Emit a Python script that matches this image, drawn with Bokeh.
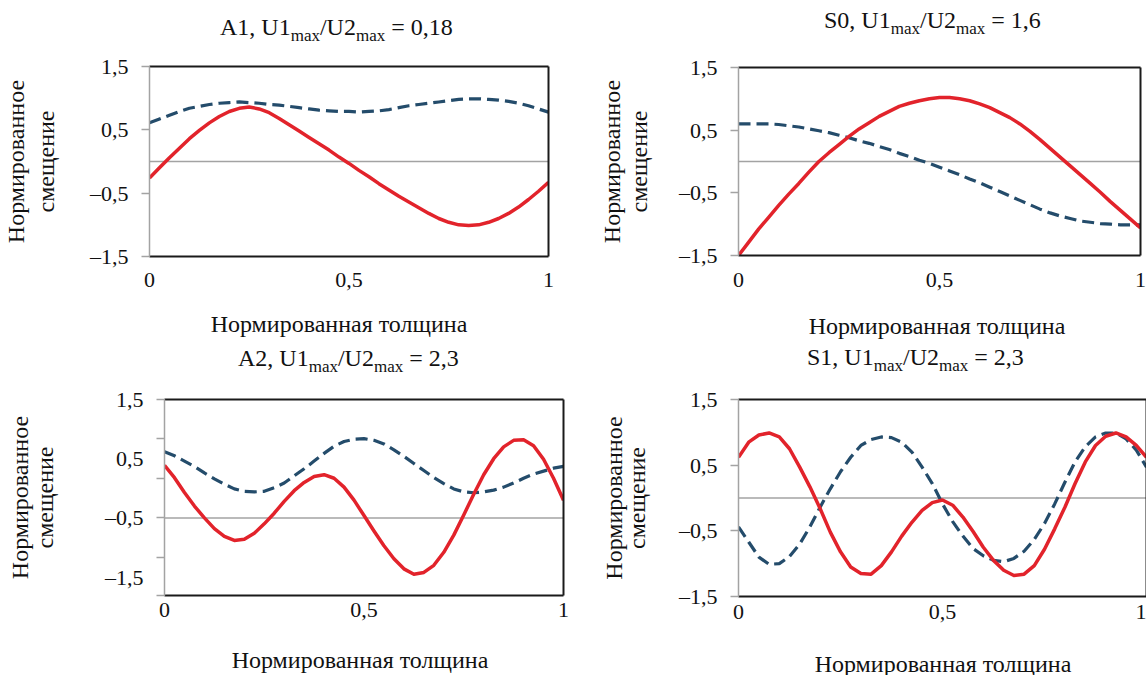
from bokeh.plotting import figure
from bokeh.models import Range1d, FixedTicker, LinearAxis, Span, Div
from bokeh.layouts import row, column
from bokeh.embed import file_html
from bokeh.resources import INLINE

FONT = "Liberation Serif"
RED = "#e2232b"
BLUE = "#244c6b"
GRAY = "#a3a3a3"
DARK = "#1a1a1a"

# ---------------- data ----------------
modes = ["A1", "S0", "A2", "S1"]
ratios = ["0,18", "1,6", "2,3", "2,3"]
x_label = "Нормированная толщина"
y_label = "Нормированное\nсмещение"

x_vals = [0.0, 0.025, 0.05, 0.075, 0.1, 0.125, 0.15, 0.175, 0.2, 0.225,
          0.25, 0.275, 0.3, 0.325, 0.35, 0.375, 0.4, 0.425, 0.45, 0.475,
          0.5, 0.525, 0.55, 0.575, 0.6, 0.625, 0.65, 0.675, 0.7, 0.725,
          0.75, 0.775, 0.8, 0.825, 0.85, 0.875, 0.9, 0.925, 0.95, 0.975, 1.0]

a1_red = [-0.26, -0.10, 0.06, 0.21, 0.36, 0.49, 0.61, 0.71, 0.79, 0.84,
          0.86, 0.83, 0.77, 0.68, 0.58, 0.48, 0.38, 0.28, 0.18, 0.07,
          -0.03, -0.14, -0.24, -0.35, -0.45, -0.55, -0.64, -0.73, -0.82, -0.90,
          -0.96, -1.00, -1.01, -1.00, -0.96, -0.90, -0.82, -0.72, -0.60, -0.47, -0.33]
a1_blue = [0.61, 0.67, 0.73, 0.79, 0.84, 0.87, 0.90, 0.92, 0.93, 0.94,
           0.93, 0.92, 0.90, 0.89, 0.87, 0.85, 0.83, 0.81, 0.80, 0.79,
           0.79, 0.78, 0.79, 0.80, 0.82, 0.85, 0.88, 0.90, 0.92, 0.94,
           0.96, 0.98, 0.99, 0.99, 0.98, 0.97, 0.95, 0.92, 0.88, 0.83, 0.78]

s0_red = [-1.50, -1.29, -1.08, -0.89, -0.70, -0.52, -0.35, -0.17, 0.00, 0.14,
          0.27, 0.40, 0.52, 0.62, 0.72, 0.80, 0.88, 0.93, 0.97, 1.00,
          1.02, 1.02, 1.00, 0.97, 0.92, 0.86, 0.78, 0.70, 0.60, 0.48,
          0.35, 0.21, 0.07, -0.07, -0.21, -0.35, -0.49, -0.64, -0.78, -0.92, -1.06]
s0_blue = [0.60, 0.60, 0.60, 0.60, 0.59, 0.57, 0.55, 0.52, 0.49, 0.46,
           0.42, 0.38, 0.33, 0.29, 0.24, 0.19, 0.13, 0.08, 0.02, -0.03,
           -0.09, -0.15, -0.21, -0.28, -0.34, -0.41, -0.48, -0.55, -0.62, -0.69,
           -0.76, -0.82, -0.87, -0.91, -0.95, -0.97, -0.99, -1.00, -1.01, -1.01, -1.01]

a2_red = [0.39, 0.18, -0.07, -0.30, -0.50, -0.68, -0.81, -0.88, -0.86, -0.76,
          -0.60, -0.42, -0.22, -0.04, 0.10, 0.20, 0.23, 0.17, 0.02, -0.20,
          -0.46, -0.72, -0.97, -1.19, -1.36, -1.45, -1.42, -1.30, -1.08, -0.79,
          -0.45, -0.10, 0.23, 0.50, 0.70, 0.81, 0.82, 0.72, 0.49, 0.17, -0.20]
a2_blue = [0.62, 0.55, 0.46, 0.37, 0.26, 0.16, 0.07, -0.01, -0.05, -0.06,
           -0.05, 0.01, 0.09, 0.21, 0.33, 0.46, 0.59, 0.71, 0.79, 0.83,
           0.84, 0.81, 0.75, 0.65, 0.54, 0.42, 0.30, 0.18, 0.08, -0.01,
           -0.06, -0.075, -0.06, -0.03, 0.02, 0.09, 0.17, 0.24, 0.29, 0.34, 0.37]

s1_red = [0.62, 0.85, 0.96, 0.99, 0.93, 0.75, 0.47, 0.17, -0.16, -0.52,
          -0.82, -1.05, -1.15, -1.16, -1.03, -0.82, -0.58, -0.37, -0.19, -0.07,
          -0.03, -0.11, -0.29, -0.51, -0.75, -0.95, -1.10, -1.18, -1.16, -1.03,
          -0.78, -0.47, -0.14, 0.22, 0.55, 0.80, 0.94, 0.99, 0.93, 0.80, 0.62]
s1_blue = [-0.44, -0.67, -0.90, -1.01, -1.00, -0.89, -0.70, -0.44, -0.14, 0.14,
           0.40, 0.62, 0.80, 0.89, 0.93, 0.92, 0.85, 0.70, 0.47, 0.22,
           -0.09, -0.36, -0.58, -0.77, -0.88, -0.95, -0.97, -0.92, -0.81, -0.63,
           -0.39, -0.09, 0.24, 0.55, 0.78, 0.93, 0.99, 0.99, 0.90, 0.73, 0.47]

# axis ticks / labels
x_ticks = [0, 0.5, 1]
x_tick_labels = ["0", "0,5", "1"]
y_ticks = [1.5, 0.5, -0.5, -1.5]
y_tick_labels = ["1,5", "0,5", "–0,5", "–1,5"]
a2_tick_marks = [1.5, 0.833, 0.167, -0.5, -1.167, -1.81]
baselines = [0.0, 0.0, -0.5, 0.0]
y_lows = [-1.5, -1.5, -1.81, -1.5]

SUB = '<sub style="font-size:17px;vertical-align:-6px;line-height:0">max</sub>'


def make_panel(i, red, blue, W, fig_h, left, right, top, bottom,
               x_std, y_lstd, y_lh, t_left, t_top,
               xl_h, xl_center, xl_top, minor_marks=None):
    title_html = (
        f'<div style="margin-left:{t_left}px;padding-top:{t_top}px;'
        f'font-family:\'{FONT}\';font-size:24px;line-height:24px;'
        f'white-space:nowrap;color:#111">'
        f'{modes[i]}, U1{SUB}/U2{SUB} = {ratios[i]}</div>'
    )
    div_t = Div(text=title_html, width=W, height=45, margin=(0, 0, 0, 0))

    xl_html = (
        f'<div style="margin-left:{xl_center - 200}px;width:400px;'
        f'text-align:center;padding-top:{xl_top}px;'
        f'font-family:\'{FONT}\';font-size:24px;line-height:24px;'
        f'white-space:nowrap;color:#111">{x_label}</div>'
    )
    div_x = Div(text=xl_html, width=W, height=xl_h, margin=(0, 0, 0, 0))

    p = figure(width=W, height=fig_h, x_range=Range1d(0, 1),
               y_range=Range1d(y_lows[i], 1.5),
               output_backend="svg", toolbar_location=None,
               min_border_left=left, min_border_right=right,
               min_border_top=top, min_border_bottom=bottom,
               outline_line_color=None, background_fill_color="white",
               border_fill_color="white")
    p.grid.visible = False

    xa = p.xaxis[0]
    xa.ticker = FixedTicker(ticks=x_ticks)
    xa.major_label_overrides = {t: s for t, s in zip(x_ticks, x_tick_labels)}
    xa.axis_line_color = DARK
    xa.axis_line_width = 2
    xa.major_tick_out = 0
    xa.major_tick_in = 0
    xa.minor_tick_out = 0
    xa.minor_tick_in = 0
    xa.major_label_standoff = x_std
    xa.major_label_text_font = FONT
    xa.major_label_text_font_size = "22px"
    xa.major_label_text_color = "#111"

    ya = p.yaxis[0]
    if minor_marks is None:
        ya.ticker = FixedTicker(ticks=y_ticks)
        ya.major_tick_line_color = GRAY
        ya.minor_tick_out = 0
        ya.minor_tick_in = 0
    else:
        ya.ticker = FixedTicker(ticks=y_ticks, minor_ticks=minor_marks)
        ya.major_tick_line_color = None
        ya.minor_tick_line_color = GRAY
        ya.minor_tick_line_width = 1.5
        ya.minor_tick_out = 8
        ya.minor_tick_in = 0
    ya.major_label_overrides = {t: s for t, s in zip(y_ticks, y_tick_labels)}
    ya.axis_line_color = GRAY
    ya.axis_line_width = 1.5
    ya.major_tick_line_width = 1.5
    ya.major_tick_out = 8
    ya.major_tick_in = 0
    ya.major_label_standoff = 13
    ya.major_label_text_font = FONT
    ya.major_label_text_font_size = "22px"
    ya.major_label_text_color = "#111"
    ya.axis_label = y_label
    ya.axis_label_text_font = FONT
    ya.axis_label_text_font_size = "24px"
    ya.axis_label_text_font_style = "normal"
    ya.axis_label_text_color = "#111"
    ya.axis_label_text_line_height = y_lh
    ya.axis_label_standoff = y_lstd

    for side in ("above", "right"):
        ax = LinearAxis(ticker=FixedTicker(ticks=[]), axis_line_color=DARK,
                        axis_line_width=2, major_tick_out=0, major_tick_in=0,
                        minor_tick_out=0, minor_tick_in=0,
                        major_label_text_font_size="0px",
                        major_label_standoff=0)
        p.add_layout(ax, side)

    p.add_layout(Span(location=baselines[i], dimension="width",
                      line_color=GRAY, line_width=1.5, level="underlay"))

    p.line(x_vals, blue, line_color=BLUE, line_width=3.2, line_dash="12 6")
    p.line(x_vals, red, line_color=RED, line_width=3.5, line_join="round")
    return column(div_t, p, div_x, spacing=0)


# row 1: title 45 + figure 255 + x-title 40 = 340
p1 = make_panel(0, a1_red, a1_blue, 573, 255, 148, 25, 21, 44,
                16, 28, 1.15, 220, 15, 40, 339, 12)
p2 = make_panel(1, s0_red, s0_blue, 573, 255, 165, 6, 22, 45,
                17, 24, 1.05, 251, 8, 40, 364, 14)
# row 2: title 45 + figure 260 + x-title 30 = 335
p3 = make_panel(2, a2_red, a2_blue, 573, 260, 164, 10, 14, 50,
                7, 44, 0.95, 238, 6, 30, 360, 3, minor_marks=a2_tick_marks)
p4 = make_panel(3, s1_red, s1_blue, 573, 260, 165, 0, 14, 49,
                8, 26, 0.9, 234, 5, 30, 370, 7)

layout = column(row(p1, p2, spacing=0), row(p3, p4, spacing=0), spacing=0)

open("out.html", "w").write(file_html(layout, INLINE))
